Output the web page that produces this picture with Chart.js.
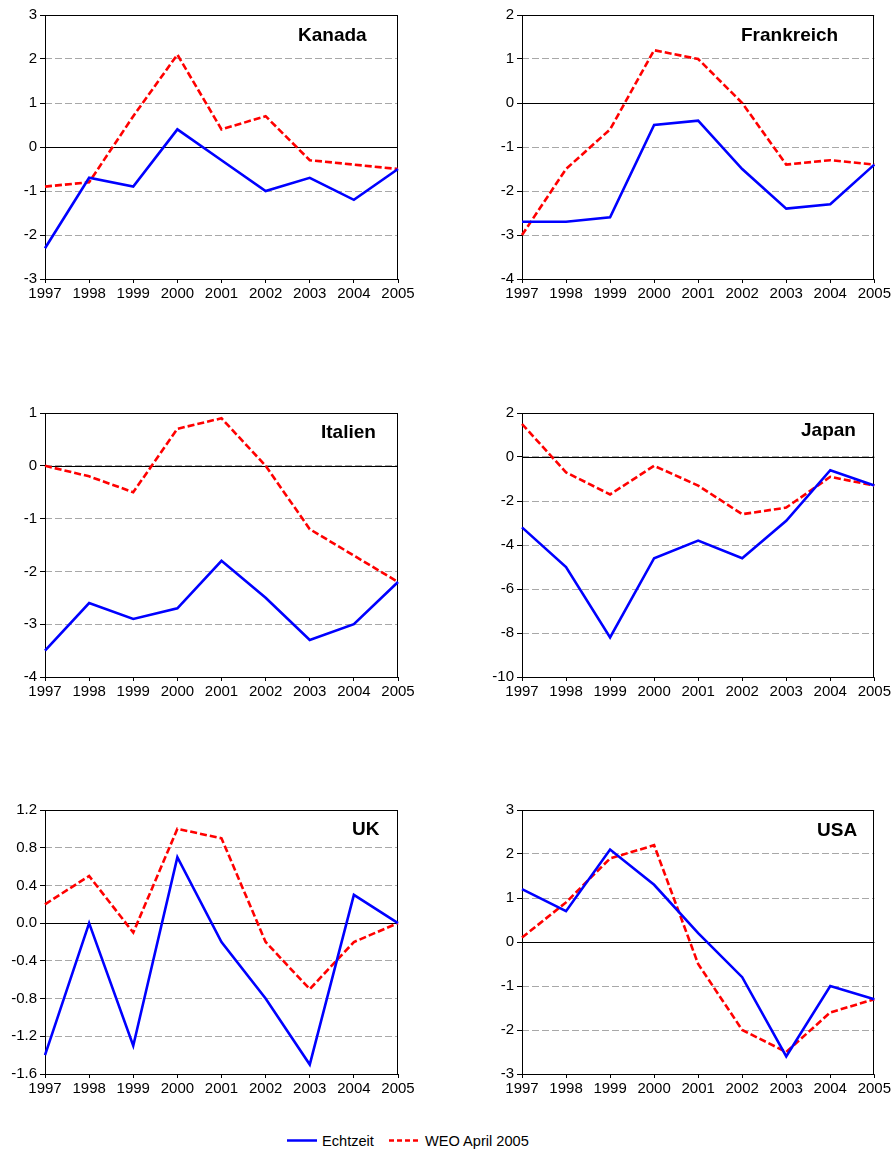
<!DOCTYPE html>
<html>
<head>
<meta charset="utf-8">
<script src="https://cdn.jsdelivr.net/npm/chart.js@4.4.0/dist/chart.umd.min.js"></script>
<style>
body { margin:0; background:#fff; width:893px; height:1153px; position:relative; overflow:hidden; font-family:"Liberation Sans", Arial, sans-serif; }
canvas { position:absolute; }
.ttl { position:absolute; font-weight:bold; font-size:19px; line-height:19px; color:#000; white-space:nowrap; }
</style>
</head>
<body>
<canvas id="c0" width="420" height="305" style="left:0;top:0"></canvas>
<canvas id="c1" width="416" height="305" style="left:477px;top:0"></canvas>
<canvas id="c2" width="420" height="305" style="left:0;top:398px"></canvas>
<canvas id="c3" width="416" height="305" style="left:477px;top:398px"></canvas>
<canvas id="c4" width="420" height="305" style="left:0;top:795px"></canvas>
<canvas id="c5" width="416" height="305" style="left:477px;top:795px"></canvas>

<div class="ttl" style="left:298px;top:25px">Kanada</div>
<div class="ttl" style="left:741px;top:25px">Frankreich</div>
<div class="ttl" style="left:321px;top:422px">Italien</div>
<div class="ttl" style="left:801px;top:420px">Japan</div>
<div class="ttl" style="left:352px;top:819px">UK</div>
<div class="ttl" style="left:817px;top:820px">USA</div>

<svg style="position:absolute;left:0;top:1128px" width="893" height="25">
  <line x1="287" y1="12.5" x2="317" y2="12.5" stroke="#0000ff" stroke-width="2.5"/>
  <text x="322" y="18.3" font-size="14.6" font-family="Liberation Sans, Arial, sans-serif" fill="#000">Echtzeit</text>
  <line x1="389" y1="12.5" x2="419" y2="12.5" stroke="#ff0000" stroke-width="2.5" stroke-dasharray="5,3"/>
  <text x="425" y="18.3" font-size="14.6" font-family="Liberation Sans, Arial, sans-serif" fill="#000">WEO April 2005</text>
</svg>

<script>
var years = ['1997', '1998', '1999', '2000', '2001', '2002', '2003', '2004', '2005'];

var kanadaEchtzeit = [-2.3, -0.7, -0.9, 0.4, -0.3, -1.0, -0.7, -1.2, -0.5];
var kanadaWeo = [-0.9, -0.8, 0.7, 2.1, 0.4, 0.7, -0.3, -0.4, -0.5];
var kanadaAxis = [-3, 3, 1];

var frankreichEchtzeit = [-2.7, -2.7, -2.6, -0.5, -0.4, -1.5, -2.4, -2.3, -1.4];
var frankreichWeo = [-3.0, -1.5, -0.6, 1.2, 1.0, 0.0, -1.4, -1.3, -1.4];
var frankreichAxis = [-4, 2, 1];

var italienEchtzeit = [-3.5, -2.6, -2.9, -2.7, -1.8, -2.5, -3.3, -3.0, -2.2];
var italienWeo = [0.0, -0.2, -0.5, 0.7, 0.9, 0.0, -1.2, -1.7, -2.2];
var italienAxis = [-4, 1, 1];

var japanEchtzeit = [-3.2, -5.0, -8.2, -4.6, -3.8, -4.6, -2.9, -0.6, -1.3];
var japanWeo = [1.5, -0.7, -1.7, -0.4, -1.3, -2.6, -2.3, -0.9, -1.3];
var japanAxis = [-10, 2, 2];

var ukEchtzeit = [-1.4, 0.0, -1.3, 0.7, -0.2, -0.8, -1.5, 0.3, 0.0];
var ukWeo = [0.2, 0.5, -0.1, 1.0, 0.9, -0.2, -0.7, -0.2, 0.0];
var ukAxis = [-1.6, 1.2, 0.4];

var usaEchtzeit = [1.2, 0.7, 2.1, 1.3, 0.2, -0.8, -2.6, -1.0, -1.3];
var usaWeo = [0.1, 0.9, 1.9, 2.2, -0.5, -2.0, -2.5, -1.6, -1.3];
var usaAxis = [-3, 3, 1];

var tickFont = { family: '"Liberation Sans", Arial, sans-serif', size: 15 };

// frame round the plot and the solid zero line
var framePlugin = {
    id: 'frame',
    beforeDatasetsDraw: function (chart) {
        var ctx = chart.ctx;
        var a = chart.chartArea;
        var y0 = Math.round(chart.scales.y.getPixelForValue(0)) + 0.5;
        ctx.save();
        ctx.strokeStyle = '#000';
        ctx.lineWidth = 1;
        ctx.setLineDash([]);
        ctx.beginPath();
        ctx.moveTo(a.left, y0);
        ctx.lineTo(a.right, y0);
        ctx.stroke();
        ctx.strokeRect(Math.round(a.left) + 0.5, Math.round(a.top) + 0.5,
            Math.round(a.right - a.left) - 1, Math.round(a.bottom - a.top));
        ctx.restore();
    }
};

function makePanel(id, echtzeit, weo, axis, rightPad, decimals) {
    var config = {
        type: 'line',
        data: {
            labels: years,
            datasets: [{
                label: 'Echtzeit',
                data: echtzeit,
                borderColor: '#0000ff',
                borderWidth: 2.6,
                pointRadius: 0,
                tension: 0
            }, {
                label: 'WEO April 2005',
                data: weo,
                borderColor: '#ff0000',
                borderWidth: 2.6,
                borderDash: [7, 3],
                pointRadius: 0,
                tension: 0
            }]
        },
        options: {
            responsive: false,
            animation: false,
            layout: { padding: { top: 15, right: rightPad, left: 0, bottom: 0 } },
            plugins: { legend: { display: false }, tooltip: { enabled: false } },
            scales: {
                x: {
                    offset: false,
                    afterFit: function (s) { s.height = 26; },
                    grid: { drawOnChartArea: false, tickLength: 4, tickColor: '#000' },
                    border: { display: false },
                    ticks: { color: '#000', font: tickFont, padding: 2, maxRotation: 0, autoSkip: false }
                },
                y: {
                    min: axis[0],
                    max: axis[1],
                    afterFit: function (s) { s.width = 45; },
                    grid: { color: '#a8a8a8', tickLength: 5, tickColor: '#000' },
                    border: { display: false, dash: [7, 3] },
                    ticks: {
                        stepSize: axis[2],
                        color: '#000',
                        font: tickFont,
                        padding: 3,
                        callback: function (v) {
                            if (Math.abs(v) < 1e-9) v = 0;
                            return v.toFixed(decimals);
                        }
                    }
                }
            }
        },
        plugins: [framePlugin]
    };
    return new Chart(document.getElementById(id), config);
}

makePanel('c0', kanadaEchtzeit, kanadaWeo, kanadaAxis, 22, 0);
makePanel('c1', frankreichEchtzeit, frankreichWeo, frankreichAxis, 17, 0);
makePanel('c2', italienEchtzeit, italienWeo, italienAxis, 22, 0);
makePanel('c3', japanEchtzeit, japanWeo, japanAxis, 17, 0);
makePanel('c4', ukEchtzeit, ukWeo, ukAxis, 22, 1);
makePanel('c5', usaEchtzeit, usaWeo, usaAxis, 17, 0);
</script>
</body>
</html>
